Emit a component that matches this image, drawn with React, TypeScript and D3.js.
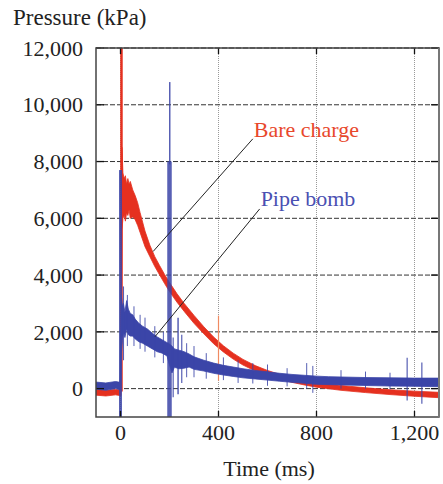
import React from "react";
import * as d3 from "d3";

const width = 443;
const height = 484;
const margin = { top: 48, right: 4, bottom: 67, left: 96 };
const red = "#e5301f";
const redLight = "#f08a62";
const blue = "#3b45a8";
const font = "'Liberation Serif', 'Times New Roman', serif";

const xTicks = [0, 400, 800, 1200];
const yTicks = [0, 2000, 4000, 6000, 8000, 10000, 12000];

// bare charge trace: lower / upper edge of the noisy band (ms, kPa)
const bareTime = [-100, -60, -20, 2, 6, 10, 15, 20, 25, 30, 35, 40, 50, 60, 70, 80, 100, 120, 140, 160, 180, 200, 230, 260, 300, 340, 380, 420, 460, 500, 550, 600, 650, 700, 750, 800, 900, 1000, 1100, 1200, 1300];
const bareLow = [-230, -260, -220, -250, 5600, 6000, 6100, 5900, 6200, 6100, 6300, 6000, 6050, 5950, 5750, 5500, 5000, 4650, 4300, 4000, 3700, 3420, 3050, 2720, 2300, 1930, 1580, 1290, 1040, 830, 620, 460, 330, 220, 130, 50, -60, -140, -210, -270, -320];
const bareHigh = [-40, -60, -30, -50, 8500, 7600, 7400, 7500, 7200, 7400, 7200, 7300, 7000, 6800, 6550, 6200, 5550, 5050, 4650, 4330, 4020, 3740, 3350, 3000, 2580, 2180, 1820, 1510, 1250, 1030, 810, 640, 500, 390, 300, 220, 110, 30, -40, -90, -130];

// pipe bomb trace
const pipeTime = [-100, -60, -20, -2, 3, 8, 12, 18, 25, 32, 40, 50, 60, 75, 90, 110, 130, 150, 170, 190, 196, 210, 220, 240, 260, 280, 300, 340, 380, 420, 460, 500, 550, 600, 650, 700, 750, 800, 850, 900, 1000, 1100, 1200, 1300];
const pipeLow = [-20, -60, 0, -40, 1200, 1700, 2000, 1800, 2100, 1900, 1850, 1850, 1750, 1650, 1600, 1500, 1400, 1300, 1250, 1150, 950, 550, 750, 700, 720, 760, 680, 620, 540, 480, 430, 380, 340, 300, 260, 220, 190, 150, 140, 130, 110, 90, 80, 70];
const pipeHigh = [230, 200, 250, 220, 3300, 2900, 3000, 2700, 3100, 2800, 2650, 2600, 2450, 2300, 2200, 2100, 1950, 1820, 1720, 1620, 1600, 1500, 1400, 1350, 1300, 1220, 1120, 1000, 900, 820, 760, 700, 640, 590, 540, 500, 470, 440, 420, 410, 390, 380, 370, 370];

// isolated spikes: time, low, high, stroke width
const bareSpikes = [
  { t: 4, lo: -100, hi: 12500, w: 2.5, c: red },
  { t: 400, lo: 280, hi: 2570, w: 1.2, c: redLight },
];
const pipeSpikes = [
  { t: 0, lo: -1300, hi: 7700, w: 3 },
  { t: 12, lo: 1000, hi: 3600, w: 1.2 },
  { t: 28, lo: 1500, hi: 3300, w: 1 },
  { t: 55, lo: 1500, hi: 2900, w: 1 },
  { t: 80, lo: 1400, hi: 2600, w: 1 },
  { t: 100, lo: 1300, hi: 2500, w: 1 },
  { t: 140, lo: 1100, hi: 2200, w: 1 },
  { t: 175, lo: 900, hi: 2000, w: 1 },
  { t: 200, lo: -1300, hi: 8000, w: 4.5 },
  { t: 201, lo: 7900, hi: 10800, w: 1.5 },
  { t: 215, lo: -300, hi: 1800, w: 1.2 },
  { t: 235, lo: -200, hi: 2500, w: 1.5 },
  { t: 250, lo: 200, hi: 1900, w: 1.2 },
  { t: 270, lo: 400, hi: 1600, w: 1 },
  { t: 300, lo: 400, hi: 1500, w: 1 },
  { t: 350, lo: 350, hi: 1250, w: 1 },
  { t: 420, lo: 300, hi: 1100, w: 1 },
  { t: 480, lo: 200, hi: 1000, w: 1 },
  { t: 540, lo: 180, hi: 900, w: 1 },
  { t: 600, lo: 100, hi: 850, w: 1 },
  { t: 680, lo: 80, hi: 720, w: 1 },
  { t: 760, lo: 0, hi: 900, w: 1 },
  { t: 785, lo: -150, hi: 800, w: 1 },
  { t: 900, lo: 0, hi: 650, w: 1 },
  { t: 1000, lo: 0, hi: 600, w: 1 },
  { t: 1100, lo: -20, hi: 560, w: 1 },
  { t: 1170, lo: -420, hi: 1090, w: 1.2 },
  { t: 1230, lo: -530, hi: 920, w: 1.2 },
];

// labels with leader lines (text anchor, line start, line end) in data units
const labels = [
  { text: "Bare charge", color: "#e8482c", t: 544, p: 8850, t1: 540, p1: 8800, t2: 133, p2: 4830 },
  { text: "Pipe bomb", color: "#4a50b2", t: 572, p: 6420, t1: 568, p1: 6330, t2: 141, p2: 1830 },
];

const x = d3.scaleLinear().domain([-100, 1300]).range([margin.left, width - margin.right]);
const y = d3.scaleLinear().domain([-1000, 12000]).range([height - margin.bottom, margin.top]);

const band = d3
  .area<number[]>()
  .x(d => x(d[0]))
  .y0(d => y(d[1]))
  .y1(d => y(d[2]));

export default function App() {
  const bare = band(bareTime.map((t, i) => [t, bareLow[i], bareHigh[i]]));
  const pipe = band(pipeTime.map((t, i) => [t, pipeLow[i], pipeHigh[i]]));
  const [x0, x1] = x.range();
  const [y0, y1] = y.range();

  return (
    <svg width={width} height={height} style={{ position: "absolute", left: 0, top: 0, background: "#fff" }}>
      <defs>
        <clipPath id="plot">
          <rect x={x0} y={y1} width={x1 - x0} height={y0 - y1} />
        </clipPath>
      </defs>

      {/* grid */}
      {xTicks.map(t => (
        <line key={"gx" + t} x1={x(t)} x2={x(t)} y1={y1} y2={y0} stroke="#999" strokeWidth={1} strokeDasharray="1,1" />
      ))}
      {yTicks.map(t => (
        <line key={"gy" + t} x1={x0} x2={x1} y1={y(t)} y2={y(t)} stroke="#333" strokeWidth={1} strokeDasharray="5,2" />
      ))}

      <g clipPath="url(#plot)">
        <path d={bare} fill={red} stroke={red} strokeWidth={0.8} />
        {bareSpikes.map((s, i) => (
          <line key={"bs" + i} x1={x(s.t)} x2={x(s.t)} y1={y(s.lo)} y2={y(s.hi)} stroke={s.c} strokeWidth={s.w} />
        ))}
        <path d={pipe} fill={blue} stroke={blue} strokeWidth={0.8} />
        {pipeSpikes.map((s, i) => (
          <line key={"ps" + i} x1={x(s.t)} x2={x(s.t)} y1={y(s.lo)} y2={y(s.hi)} stroke={blue} strokeWidth={s.w} opacity={0.85} />
        ))}
      </g>

      {/* inward ticks */}
      {yTicks.map(t => (
        <g key={"ty" + t}>
          <line x1={x0} x2={x0 + 8} y1={y(t)} y2={y(t)} stroke="#111" strokeWidth={1.3} />
          <line x1={x1 - 8} x2={x1} y1={y(t)} y2={y(t)} stroke="#111" strokeWidth={1.3} />
        </g>
      ))}
      {xTicks.map(t => (
        <g key={"tx" + t}>
          <line x1={x(t)} x2={x(t)} y1={y1} y2={y1 + 6} stroke="#111" strokeWidth={1.3} />
          <line x1={x(t)} x2={x(t)} y1={y0 - 6} y2={y0} stroke="#111" strokeWidth={1.3} />
        </g>
      ))}

      {/* frame */}
      <rect x={x0} y={y1} width={x1 - x0} height={y0 - y1} fill="none" stroke="#444" strokeWidth={1.5} />
      <line x1={x1} x2={x1} y1={y1} y2={y0} stroke="#777" strokeWidth={2} />

      {/* leader lines and labels */}
      {labels.map(l => (
        <g key={l.text}>
          <line x1={x(l.t1)} y1={y(l.p1)} x2={x(l.t2)} y2={y(l.p2)} stroke="#222" strokeWidth={1} />
          <text x={x(l.t)} y={y(l.p)} fill={l.color} fontFamily={font} fontSize={22}>
            {l.text}
          </text>
        </g>
      ))}

      {/* tick labels */}
      {yTicks.map(t => (
        <text key={"ly" + t} x={x0 - 13} y={y(t)} dy="0.35em" textAnchor="end" fontFamily={font} fontSize={22} fill="#222">
          {d3.format(",")(t)}
        </text>
      ))}
      {xTicks.map(t => (
        <text key={"lx" + t} x={x(t)} y={440} textAnchor="middle" fontFamily={font} fontSize={22} fill="#222">
          {d3.format(",")(t)}
        </text>
      ))}

      <text x={13} y={25} fontFamily={font} fontSize={23} fill="#222">
        Pressure (kPa)
      </text>
      <text x={269} y={476} textAnchor="middle" fontFamily={font} fontSize={22} fill="#222">
        Time (ms)
      </text>
    </svg>
  );
}
